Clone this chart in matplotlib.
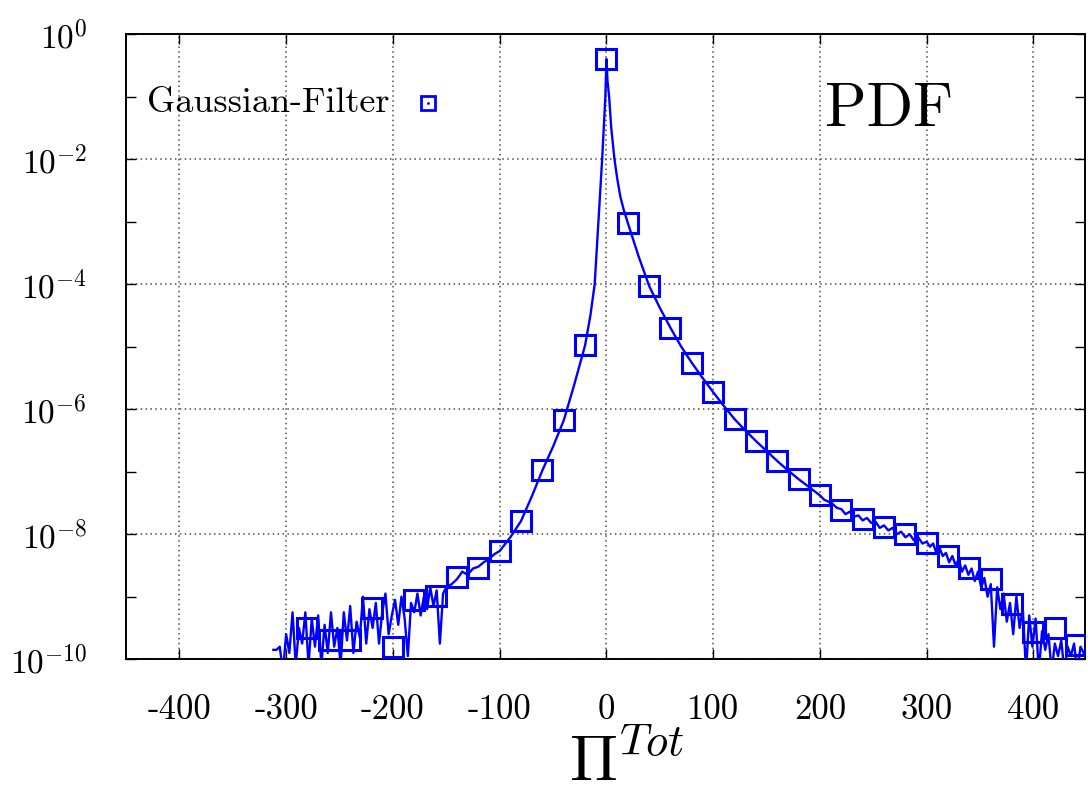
import numpy as np
import matplotlib
matplotlib.use("Agg")
import matplotlib.pyplot as plt

plt.rcParams['mathtext.fontset'] = 'cm'
plt.rcParams['font.family'] = ['cmr10', 'DejaVu Serif']
plt.rcParams['axes.formatter.use_mathtext'] = True

# ---- data (log10 of PDF values) ----
left_tail_x = [-312, -309, -306, -303, -300, -297, -294, -291, -288, -285, -282, -279,
               -276, -273, -270, -267, -264, -261, -258, -255, -252, -249, -246, -243,
               -240, -237, -234, -231, -228, -225, -222, -219, -216, -213, -210, -207,
               -204, -201, -198, -195, -192, -189, -186, -183, -180, -177, -174, -171,
               -168, -165, -162, -159, -156, -153, -150]
left_tail_logy = [-9.85, -9.85, -9.8, -10.2, -9.6, -9.9, -9.25, -10.1, -9.5, -9.75, -9.25, -10.1,
                  -9.35, -9.8, -9.3, -10.1, -9.45, -9.9, -9.25, -9.8, -9.5, -10.1, -9.25, -9.7,
                  -9.15, -9.9, -9.4, -9.65, -9.0, -9.75, -9.2, -9.5, -9.1, -9.75, -9.25, -8.95,
                  -9.6, -9.3, -9.05, -9.45, -9.0, -9.35, -9.95, -9.1, -9.25, -8.95, -9.3, -9.0,
                  -9.2, -8.85, -9.15, -8.9, -9.75, -8.95, -8.85]

core_x = [-145, -140, -135, -130, -125, -120, -115, -110, -105, -100, -90, -80, -70, -60,
          -50, -40, -30, -20, -15, -11, -7.5, -4, -1, 0, 1, 2.5, 4.5, 7.5, 10, 13, 16, 20,
          30, 40, 50, 60, 70, 80, 90, 100, 110, 120, 130, 140, 150, 160, 170, 180, 190, 200]
core_logy = [-8.8, -8.72, -8.6, -8.65, -8.55, -8.52, -8.45, -8.4, -8.32, -8.27, -8.05, -7.79,
             -7.4, -6.98, -6.6, -6.18, -5.6, -4.98, -4.5, -4.0, -3.0, -2.0, -1.0, -0.4, -0.75,
             -1.0, -1.5, -2.0, -2.3, -2.6, -2.8, -3.02, -3.55, -4.03, -4.38, -4.70, -5.0,
             -5.26, -5.5, -5.73, -5.95, -6.16, -6.34, -6.51, -6.67, -6.83, -6.98, -7.12,
             -7.25, -7.38]

mid_right_x = [204, 208, 212, 216, 220, 224, 228, 232, 236, 240, 244, 248, 252, 256, 260,
               264, 268, 272, 276, 280, 284, 288, 292, 296, 300]
mid_right_logy = [-7.45, -7.48, -7.52, -7.58, -7.6, -7.68, -7.64, -7.72, -7.7, -7.78, -7.74,
                  -7.82, -7.8, -7.9, -7.86, -7.94, -7.9, -8.0, -7.96, -8.05, -8.0, -8.1,
                  -8.05, -8.15, -8.12]

right_tail_x = [303, 306, 309, 312, 315, 318, 321, 324, 327, 330, 333, 336, 339, 342, 345,
                348, 351, 354, 357, 360, 363, 366, 369, 372, 375, 378, 381, 384, 387, 390,
                393, 396, 399, 402, 405, 408, 411, 414, 417, 420, 423, 426, 429, 432, 435,
                438, 441, 444, 447]
right_tail_logy = [-8.2, -8.15, -8.3, -8.22, -8.35, -8.3, -8.45, -8.35, -8.5, -8.4, -8.6,
                   -8.5, -8.65, -8.55, -8.75, -8.6, -8.85, -8.7, -9.0, -8.8, -9.8, -8.85,
                   -9.2, -8.95, -9.4, -9.1, -9.6, -9.0, -9.5, -9.2, -10.2, -9.3, -9.8, -9.35,
                   -10.2, -9.55, -9.85, -9.6, -10.2, -9.75, -9.95, -9.7, -10.2, -9.8, -9.95,
                   -9.75, -10.2, -9.8, -9.9]

marker_x = [-280, -260, -240, -220, -200, -180, -160, -140, -120, -100, -80, -60, -40, -20,
            0, 20, 40, 60, 80, 100, 120, 140, 160, 180, 200, 220, 240, 260, 280, 300, 320,
            340, 360, 380, 400, 420, 440]
marker_logy = [-9.5, -9.7, -9.7, -9.18, -9.81, -9.05, -8.99, -8.69, -8.54, -8.27, -7.79,
               -6.98, -6.18, -4.98, -0.4, -3.02, -4.03, -4.70, -5.26, -5.73, -6.16, -6.51,
               -6.83, -7.12, -7.38, -7.62, -7.76, -7.89, -8.0, -8.14, -8.35, -8.54, -8.72,
               -9.12, -9.57, -9.5, -9.78]

xticks = [-400, -300, -200, -100, 0, 100, 200, 300, 400]
xtick_labels = ['-400', '-300', '-200', '-100', '0', '100', '200', '300', '400']
ymajor_exp = [0, -2, -4, -6, -8, -10]
yminor_exp = [-1, -3, -5, -7, -9]
series_label = 'Gaussian-Filter'

# ---- figure ----
fig = plt.figure(figsize=(10.88, 8.0), dpi=100)
ax = fig.add_axes([0.1158, 0.176, 0.8812, 0.7815])

line_x = left_tail_x + core_x + mid_right_x + right_tail_x
line_y = 10.0 ** np.array(left_tail_logy + core_logy + mid_right_logy + right_tail_logy)
blue = '#0000ff'
ax.plot(line_x, line_y, color=blue, lw=1.7, zorder=3)
ax.plot(marker_x, 10.0 ** np.array(marker_logy), ls='none', marker='s', ms=14,
        mfc='none', mec=blue, mew=2.2, zorder=4)

ax.set_yscale('log')
ax.set_xlim(-450, 448)
ax.set_ylim(1e-10, 1.0)

ax.set_xticks(xticks)
ax.set_xticklabels(xtick_labels, fontsize=25, family='cmr10')
ax.set_yticks([10.0 ** e for e in ymajor_exp])
ax.set_yticklabels([r'$10^{%d}$' % e for e in ymajor_exp], fontsize=24)
ax.set_yticks([10.0 ** e for e in yminor_exp], minor=True)
ax.yaxis.set_minor_formatter(matplotlib.ticker.NullFormatter())

ax.tick_params(which='both', direction='in', top=True, right=True, length=7, width=1.0)
ax.tick_params(axis='x', pad=25)
ax.tick_params(axis='y', pad=28)
ax.grid(True, which='major', color='0.3', ls=(0, (1, 2.2)), lw=1.1)
for s in ax.spines.values():
    s.set_linewidth(1.4)

# legend (gnuplot style)
ax.text(0.275, 0.8896, series_label, transform=ax.transAxes, ha='right', va='center',
        fontsize=26, family='cmr10')
ax.plot([0.3146], [0.8896], transform=ax.transAxes, marker='s', ms=10, mfc='none',
        mec=blue, mew=2.0, ls='none', clip_on=False)
ax.plot([0.3146], [0.8896], transform=ax.transAxes, marker='.', ms=2, color=blue,
        ls='none', clip_on=False)

ax.text(0.796, 0.878, 'PDF', transform=ax.transAxes, ha='center', va='center',
        fontsize=44, family='cmr10')

fig.text(0.576, 0.045, r'$\Pi^{Tot}$', ha='center', va='center', fontsize=46)

fig.savefig('out.png', dpi=100)
